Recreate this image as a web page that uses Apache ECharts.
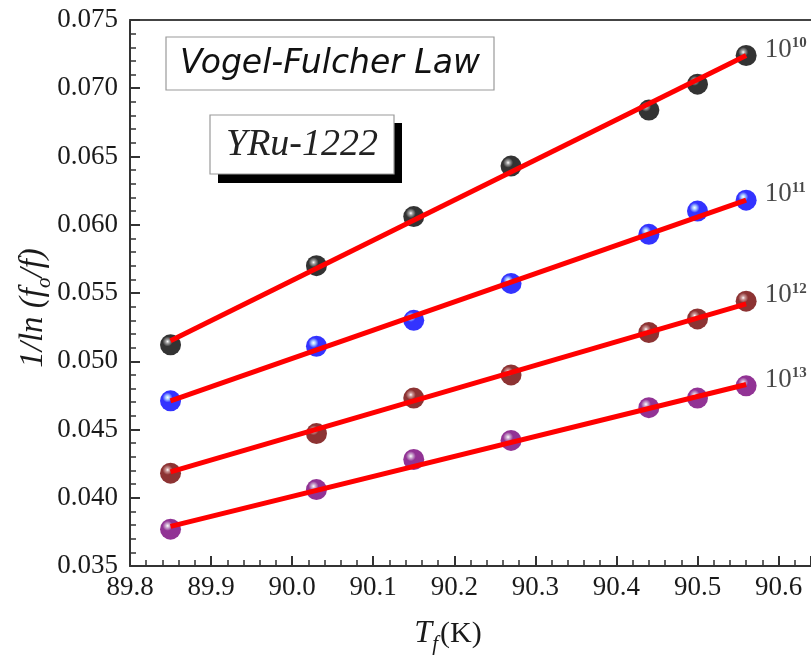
<!DOCTYPE html>
<html>
<head>
<meta charset="utf-8">
<title>Vogel-Fulcher Law – YRu-1222</title>
<script src="https://cdn.jsdelivr.net/npm/echarts@6/dist/echarts.min.js"></script>
<style>
  html, body { margin: 0; padding: 0; background: #fff; }
  #chart { width: 811px; height: 660px; }
</style>
</head>
<body>
<div id="chart"></div>
<script>
// Freezing temperature T_f (K) for each measured frequency
const temperature = [89.85, 90.03, 90.15, 90.27, 90.44, 90.50, 90.56];

// 1/ln(f0/f) for each attempt frequency f0
const inv1e10 = [0.0512, 0.0570, 0.0606, 0.0643, 0.0684, 0.0703, 0.0724];
const inv1e11 = [0.0471, 0.0511, 0.0530, 0.0557, 0.0593, 0.0610, 0.0618];
const inv1e12 = [0.0418, 0.0447, 0.0473, 0.0490, 0.0521, 0.0531, 0.0544];
const inv1e13 = [0.0377, 0.0406, 0.0428, 0.0442, 0.0466, 0.0473, 0.0482];

// End points of the straight-line fits
const fitT = [89.85, 90.56];
const fit1e10 = [0.0515, 0.0724];
const fit1e11 = [0.0471, 0.0618];
const fit1e12 = [0.0419, 0.0542];
const fit1e13 = [0.0379, 0.0483];

// Exponent labels for f0 = 10^n
const exponents = ['10', '11', '12', '13'];

const groups = [
  { values: inv1e10, fit: fit1e10, base: '#000000', glow: '#8a8a8a' },
  { values: inv1e11, fit: fit1e11, base: '#0000ff', glow: '#9cc8ff' },
  { values: inv1e12, fit: fit1e12, base: '#700000', glow: '#c08080' },
  { values: inv1e13, fit: fit1e13, base: '#76007a', glow: '#c49ec8' }
];

const serif = 'Liberation Serif';
const sans = 'DejaVu Sans';

function ball(base, glow) {
  return {
    type: 'radial', x: 0.36, y: 0.34, r: 0.66,
    colorStops: [
      { offset: 0, color: '#ffffff' },
      { offset: 0.13, color: glow },
      { offset: 0.36, color: base },
      { offset: 1, color: base }
    ]
  };
}

const series = [];
groups.forEach((g, i) => {
  const pts = temperature.map((t, k) => {
    const item = { value: [t, g.values[k]] };
    if (k === temperature.length - 1) {
      item.label = {
        show: true,
        position: 'right',
        distance: 8,
        offset: [0, -6],
        formatter: '{b|10}{s|' + exponents[i] + '}',
        rich: {
          b: { fontFamily: serif, fontSize: 27, color: '#1a1a1a', lineHeight: 28 },
          s: { fontFamily: serif, fontSize: 15, fontWeight: 'bold', color: '#1a1a1a',
               verticalAlign: 'top', lineHeight: 15 }
        }
      };
    }
    return item;
  });
  series.push({
    type: 'scatter',
    xAxisIndex: 0,
    data: pts,
    symbol: 'circle',
    symbolSize: 21,
    z: 2,
    itemStyle: { color: ball(g.base, g.glow) }
  });
  series.push({
    type: 'line',
    xAxisIndex: 0,
    data: fitT.map((t, k) => [t, g.fit[k]]),
    showSymbol: false,
    symbol: 'none',
    z: 3,
    silent: true,
    lineStyle: { color: '#ff0000', width: 5 }
  });
});

const X_MIN = 89.8, X_MAX = 90.64;

// tick numbers in the serif face
const numRich = { n: { fontFamily: serif, fontSize: 27, color: '#1a1a1a' } };

const chart = echarts.init(document.getElementById('chart'), null, { renderer: 'canvas' });

chart.setOption({
  animation: false,
  backgroundColor: '#ffffff',
  textStyle: { fontFamily: serif },
  grid: { left: 130, top: 20, right: 0, height: 548 },
  xAxis: [
    {
      type: 'value',
      position: 'bottom',
      min: X_MIN, max: X_MAX, interval: 0.1,
      axisLine: { show: true, lineStyle: { color: '#333', width: 2 } },
      axisTick: { show: true, inside: true, length: 10, lineStyle: { color: '#333', width: 2 } },
      minorTick: { show: true, splitNumber: 5, length: 6, lineStyle: { color: '#333', width: 1.5 } },
      splitLine: { show: false },
      axisLabel: {
        margin: 8,
        showMaxLabel: false,
        fontFamily: serif, fontSize: 27, color: '#1a1a1a',
        formatter: v => '{n|' + v.toFixed(1) + '}',
        rich: numRich
      },
      name: '{t|T}{sub|f}{k|(K)}',
      nameLocation: 'middle',
      nameGap: 52,
      nameMoveOverlap: false,
      nameTextStyle: {
        fontFamily: serif,
        padding: [0, 45, 0, 0],
        rich: {
          t: { fontFamily: serif, fontStyle: 'italic', fontSize: 32, color: '#1a1a1a' },
          sub: { fontFamily: serif, fontStyle: 'italic', fontSize: 21, color: '#1a1a1a',
                 verticalAlign: 'bottom', padding: [0, 2, -5, 0] },
          k: { fontFamily: serif, fontSize: 30, color: '#1a1a1a' }
        }
      }
    },
    {
      // top frame line
      type: 'value',
      position: 'top',
      min: X_MIN, max: X_MAX,
      axisLine: { show: true, lineStyle: { color: '#444', width: 2 } },
      axisTick: { show: false },
      axisLabel: { show: false },
      splitLine: { show: false }
    }
  ],
  yAxis: {
    type: 'value',
    min: 0.035, max: 0.075, interval: 0.005,
    axisLine: { show: true, lineStyle: { color: '#333', width: 2 } },
    axisTick: { show: true, inside: true, length: 10, lineStyle: { color: '#333', width: 2 } },
    minorTick: { show: true, splitNumber: 5, length: 6, lineStyle: { color: '#333', width: 1.5 } },
    splitLine: { show: false },
    axisLabel: {
      margin: 12,
      fontFamily: serif, fontSize: 27, color: '#1a1a1a',
      formatter: v => '{n|' + v.toFixed(3) + '}',
      rich: numRich
    },
    name: '{i|1/ln (f}{sub|o}{i|/f)}',
    nameLocation: 'middle',
    nameRotate: 90,
    nameGap: 80,
    nameMoveOverlap: false,
    nameTextStyle: {
      fontFamily: serif,
      padding: [0, 30, 0, 0],
      rich: {
        i: { fontFamily: serif, fontStyle: 'italic', fontSize: 33, color: '#1a1a1a' },
        sub: { fontFamily: serif, fontStyle: 'italic', fontSize: 21, color: '#1a1a1a',
               verticalAlign: 'bottom', padding: [0, 0, -5, 0] }
      }
    }
  },
  series: series,
  graphic: [
    {
      type: 'rect', z: 10,
      shape: { x: 166, y: 37, width: 328, height: 53 },
      style: { fill: '#ffffff', stroke: '#9a9a9a', lineWidth: 1.2 }
    },
    {
      type: 'text', z: 11,
      style: {
        x: 330, y: 64, text: 'Vogel-Fulcher Law',
        align: 'center', verticalAlign: 'middle',
        fontFamily: sans, fontStyle: 'italic',
        fontSize: 33, fill: '#111'
      }
    },
    {
      type: 'rect', z: 10,
      shape: { x: 218, y: 123, width: 184, height: 60 },
      style: { fill: '#000000' }
    },
    {
      type: 'rect', z: 11,
      shape: { x: 210, y: 115, width: 184, height: 59 },
      style: { fill: '#ffffff', stroke: '#9a9a9a', lineWidth: 1.2 }
    },
    {
      type: 'text', z: 12,
      style: {
        x: 302, y: 145, text: 'YRu-1222',
        align: 'center', verticalAlign: 'middle',
        fontFamily: serif, fontStyle: 'italic',
        fontSize: 38, fill: '#222'
      }
    }
  ]
});
</script>
</body>
</html>
